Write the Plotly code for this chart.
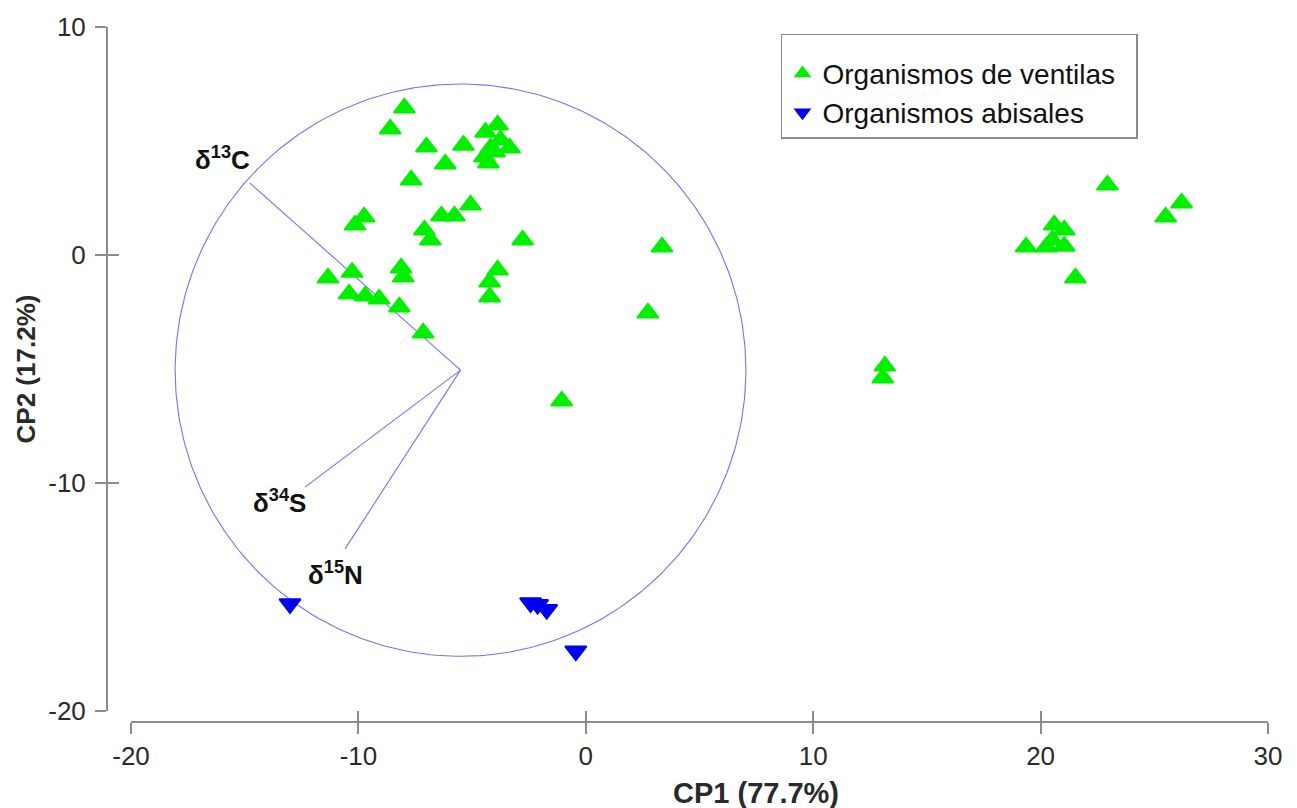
import numpy as np
import plotly.graph_objects as go

# ---- data ----
vent_x = [-7.98, -8.60, -7.01, -5.38, -6.18, -7.68, -4.41, -3.88, -3.75, -3.35, -4.19, -4.46,
          -4.28, -4.01, -9.75, -10.15, -6.35, -5.78, -5.07, -7.10, -6.84, -2.78,
          -11.34, -10.28, -10.41, -9.70, -9.09, -8.20, -7.15, -8.12, -8.03, -3.88, -4.23, -4.23,
          3.35, 2.73, -1.06, 13.15, 13.06,
          22.94, 26.20, 25.50, 20.60, 21.04, 19.36, 20.25, 21.04, 20.51, 21.53]
vent_y = [6.45, 5.53, 4.74, 4.82, 3.99, 3.29, 5.39, 5.70, 5.04, 4.69, 4.69, 4.30,
          4.04, 4.52, 1.67, 1.32, 1.71, 1.71, 2.19, 1.10, 0.66, 0.66,
          -1.01, -0.75, -1.71, -1.80, -1.93, -2.28, -3.42, -0.57, -0.96, -0.66, -1.18, -1.84,
          0.35, -2.54, -6.40, -4.87, -5.39,
          3.07, 2.28, 1.67, 1.32, 1.10, 0.35, 0.35, 0.39, 0.66, -1.01]

abis_x = [-13.01, -2.43, -2.12, -1.72, -0.44]
abis_y = [-15.30, -15.25, -15.33, -15.55, -17.37]

# correlation circle and loading vectors
circle_center = (-5.51, -5.05)
circle_radius = 12.55
load_names = ["δ<sup>13</sup>C", "δ<sup>34</sup>S", "δ<sup>15</sup>N"]
load_end_x = [-14.78, -12.35, -10.59]
load_end_y = [3.16, -10.18, -12.89]
label_x = [-15.97, -13.45, -11.03]
label_y = [4.25, -10.79, -13.99]

x_ticks = [-20, -10, 0, 10, 20, 30]
y_ticks = [-20, -10, 0, 10]
x_range = [-20, 30]
y_range = [-20, 10]

series_names = ["Organismos de ventilas", "Organismos abisales"]

# ---- styling ----
FONT = "Liberation Sans, Arial, sans-serif"
GREEN = "rgb(0,240,0)"
BLUE = "rgb(0,0,245)"
LINEC = "rgb(115,115,250)"
AXC = "#8c8c8c"
TXT = "#2a2a2a"
NB = "\u00a0"

fig = go.Figure()

th = np.linspace(0, 2 * np.pi, 361)
fig.add_trace(go.Scatter(x=circle_center[0] + circle_radius * np.cos(th),
                         y=circle_center[1] + circle_radius * np.sin(th),
                         mode="lines", line=dict(color=LINEC, width=1.1),
                         hoverinfo="skip", showlegend=False))
for ex, ey in zip(load_end_x, load_end_y):
    fig.add_trace(go.Scatter(x=[circle_center[0], ex], y=[circle_center[1], ey],
                             mode="lines", line=dict(color=LINEC, width=1.1),
                             hoverinfo="skip", showlegend=False))

fig.add_trace(go.Scatter(x=vent_x, y=vent_y, mode="markers", name=series_names[0] + NB * 2,
                         marker=dict(symbol="triangle-up", size=18.5, color=GREEN,
                                     line=dict(color=GREEN, width=1.8))))
fig.add_trace(go.Scatter(x=abis_x, y=abis_y, mode="markers", name=series_names[1],
                         marker=dict(symbol="triangle-down", size=18.5, color=BLUE,
                                     line=dict(color=BLUE, width=1.8))))

fig.add_trace(go.Scatter(x=[None], y=[None], xaxis="x2", yaxis="y2",
                         showlegend=False, hoverinfo="skip"))

for name, lx, ly in zip(load_names, label_x, label_y):
    fig.add_annotation(x=lx, y=ly, text="<b>" + name + "</b>", showarrow=False,
                       font=dict(family=FONT, size=26, color="#111"))

# x-axis title (sits right of the axis centre in the reference)
fig.add_annotation(xref="paper", yref="paper", x=0.559, y=0, yshift=-71,
                   xanchor="center", yanchor="middle", showarrow=False,
                   text="<b>CP1 (77.7%)</b>", font=dict(family=FONT, size=29, color=TXT))

xdom = [0.0207, 1]
ydom = [0.0158, 1]
axis_common = dict(showgrid=False, zeroline=False, showline=True, linecolor=AXC,
                   linewidth=2, ticks="outside", ticklen=11, tickcolor=AXC, tickwidth=1.5)

fig.update_layout(
    width=1297, height=808,
    margin=dict(l=107, r=29, t=27, b=86, pad=0),
    paper_bgcolor="white", plot_bgcolor="white",
    font=dict(family=FONT, size=26, color=TXT),
    xaxis=dict(range=x_range, domain=xdom, anchor="free", position=0,
               tickvals=x_ticks, ticktext=[str(v) for v in x_ticks],
               ticklabelstandoff=0, **axis_common),
    yaxis=dict(range=y_range, domain=ydom, anchor="free", position=0,
               tickvals=y_ticks, ticktext=[str(v) for v in y_ticks],
               ticklabelstandoff=4,
               title=dict(text="<b>CP2 (17.2%)</b>", font=dict(size=26, color=TXT), standoff=4),
               **axis_common),
    xaxis2=dict(range=x_range, domain=xdom, overlaying="x", anchor="free", position=0,
                tickvals=x_ticks, showticklabels=False, showgrid=False, zeroline=False,
                showline=False, ticks="inside", ticklen=11, tickcolor=AXC, tickwidth=1.5),
    yaxis2=dict(range=y_range, domain=ydom, overlaying="y", anchor="free", position=0,
                tickvals=y_ticks, showticklabels=False, showgrid=False, zeroline=False,
                showline=False, ticks="inside", ticklen=11, tickcolor=AXC, tickwidth=1.5),
    legend=dict(x=0.5805, y=0.99, xanchor="left", yanchor="top",
                bordercolor="#8a8a8a", borderwidth=1.5, bgcolor="white",
                font=dict(family=FONT, size=28, color="#111"),
                title=dict(text=" ", font=dict(size=10)),
                itemsizing="constant", tracegroupgap=0, itemwidth=30),
)

fig.write_html("out.html")
